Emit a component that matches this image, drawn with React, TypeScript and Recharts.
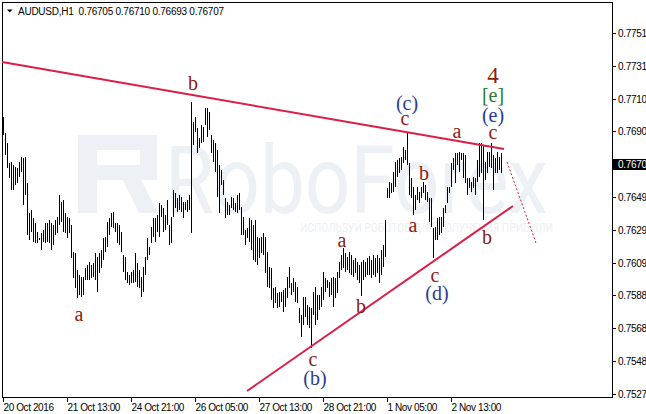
import React from 'react';
import { ComposedChart, Bar, XAxis, YAxis, ReferenceLine, ReferenceDot } from 'recharts';

// AUDUSD H1 bars (index 0 = 20 Oct 2016 05:00)
const barHigh: number[] = [
  0.76989, 0.76889, 0.76827, 0.76703, 0.76710, 0.76691, 0.76679, 0.76672, 0.76710, 0.76741,
  0.76734, 0.76741, 0.76579, 0.76393, 0.76412, 0.76362, 0.76331, 0.76276, 0.76238, 0.76269,
  0.76288, 0.76331, 0.76331, 0.76350, 0.76331, 0.76319, 0.76350, 0.76369, 0.76505, 0.76462,
  0.76474, 0.76393, 0.76369, 0.76362, 0.76319, 0.76152, 0.76145, 0.76040, 0.76009, 0.75997,
  0.75997, 0.76052, 0.76071, 0.76090, 0.76071, 0.76083, 0.76145, 0.76121, 0.76145, 0.76164,
  0.76238, 0.76245, 0.76338, 0.76362, 0.76393, 0.76400, 0.76331, 0.76331, 0.76319, 0.76276,
  0.76133, 0.76121, 0.76028, 0.76009, 0.76028, 0.76040, 0.76145, 0.76083, 0.76040, 0.75997,
  0.76059, 0.76121, 0.76238, 0.76183, 0.76307, 0.76362, 0.76362, 0.76381, 0.76455, 0.76443,
  0.76424, 0.76381, 0.76474, 0.76319,
  0.76369, 0.76536, 0.76517, 0.76486, 0.76505, 0.76493, 0.76462, 0.76462, 0.76474, 0.76505,
  0.77082, 0.76958, 0.76989, 0.76920, 0.76858, 0.76939, 0.76927, 0.77044, 0.77044, 0.77020,
  0.76877, 0.76846, 0.76827, 0.76784, 0.76691, 0.76660, 0.76598, 0.76486, 0.76462, 0.76443,
  0.76493, 0.76486, 0.76455, 0.76505, 0.76517, 0.76431, 0.76369, 0.76288, 0.76300, 0.76362,
  0.76350, 0.76319, 0.76350, 0.76245, 0.76238, 0.76245, 0.76269, 0.76245, 0.76152, 0.76059,
  0.76052, 0.75928, 0.75935, 0.75897, 0.75904, 0.75904, 0.75916, 0.75928, 0.75997, 0.76059,
  0.75959, 0.75990, 0.75966, 0.75935, 0.75804, 0.75761, 0.75873, 0.75873, 0.75823, 0.75810,
  0.75804, 0.75904, 0.75935, 0.75885, 0.75885, 0.75935, 0.76028, 0.75990, 0.75978, 0.75966,
  0.75990, 0.75997, 0.75990, 0.76028,
  0.76090, 0.76133, 0.76176, 0.76145, 0.76121, 0.76152, 0.76133, 0.76102, 0.76114, 0.76090,
  0.76071, 0.76090, 0.76102, 0.76090, 0.76114, 0.76127, 0.76102, 0.76133, 0.76114, 0.76133,
  0.76114, 0.76164, 0.76195, 0.76350, 0.76548, 0.76586, 0.76579, 0.76648, 0.76710, 0.76722,
  0.76734, 0.76741, 0.76803, 0.76784, 0.76889, 0.76703, 0.76610, 0.76555, 0.76505, 0.76555,
  0.76524, 0.76555, 0.76586, 0.76567, 0.76524, 0.76486, 0.76486, 0.76300, 0.76307, 0.76362,
  0.76369, 0.76369, 0.76424, 0.76443, 0.76555, 0.76555, 0.76703, 0.76734, 0.76765, 0.76765,
  0.76772, 0.76765, 0.76765, 0.76753, 0.76610, 0.76610, 0.76586, 0.76617, 0.76610, 0.76722,
  0.76827, 0.76827, 0.76815, 0.76710, 0.76772, 0.76772, 0.76827, 0.76753, 0.76734, 0.76772,
  0.76741, 0.76765,
];

const barLow: number[] = [
  0.76877, 0.76753, 0.76672, 0.76610, 0.76536, 0.76536, 0.76567, 0.76579, 0.76617, 0.76648,
  0.76443, 0.76505, 0.76257, 0.76226, 0.76276, 0.76214, 0.76207, 0.76207, 0.76226, 0.76164,
  0.76214, 0.76207, 0.76214, 0.76207, 0.76164, 0.76195, 0.76257, 0.76269, 0.76319, 0.76338,
  0.76276, 0.76269, 0.76238, 0.76269, 0.76114, 0.75990, 0.75928, 0.75866, 0.75885, 0.75873,
  0.75885, 0.75978, 0.75978, 0.75978, 0.75990, 0.75997, 0.75978, 0.75904, 0.76021, 0.76052,
  0.76102, 0.76152, 0.76183, 0.76257, 0.76307, 0.76300, 0.76276, 0.76207, 0.76195, 0.76152,
  0.76028, 0.75978, 0.75959, 0.75947, 0.75959, 0.75959, 0.75966, 0.75935, 0.75928, 0.75873,
  0.75904, 0.76009, 0.76102, 0.76133, 0.76207, 0.76245, 0.76214, 0.76276, 0.76245, 0.76369,
  0.76276, 0.76288, 0.76319, 0.76195,
  0.76207, 0.76369, 0.76424, 0.76400, 0.76412, 0.76400, 0.76362, 0.76412, 0.76400, 0.76412,
  0.76269, 0.76815, 0.76896, 0.76765, 0.76796, 0.76827, 0.76834, 0.76939, 0.76865, 0.76908,
  0.76765, 0.76710, 0.76648, 0.76493, 0.76393, 0.76567, 0.76505, 0.76362, 0.76381, 0.76381,
  0.76424, 0.76412, 0.76400, 0.76393, 0.76412, 0.76257, 0.76257, 0.76195, 0.76238, 0.76214,
  0.76164, 0.76102, 0.76090, 0.76071, 0.76114, 0.76145, 0.76133, 0.76021, 0.75935, 0.75928,
  0.75854, 0.75804, 0.75835, 0.75804, 0.75810, 0.75842, 0.75780, 0.75810, 0.75866, 0.75928,
  0.75885, 0.75904, 0.75842, 0.75835, 0.75711, 0.75625, 0.75699, 0.75749, 0.75699, 0.75680,
  0.75556, 0.75761, 0.75699, 0.75730, 0.75792, 0.75810, 0.75854, 0.75904, 0.75928, 0.75873,
  0.75885, 0.75810, 0.75866, 0.75897,
  0.75990, 0.76040, 0.76052, 0.76028, 0.76040, 0.76021, 0.76009, 0.75997, 0.76021, 0.75978,
  0.75959, 0.75879, 0.75978, 0.75997, 0.76009, 0.76009, 0.75990, 0.76009, 0.75997, 0.76021,
  0.75959, 0.76009, 0.76059, 0.76121, 0.76486, 0.76486, 0.76517, 0.76524, 0.76555, 0.76617,
  0.76641, 0.76660, 0.76703, 0.76722, 0.76691, 0.76505, 0.76486, 0.76381, 0.76412, 0.76474,
  0.76455, 0.76486, 0.76517, 0.76474, 0.76462, 0.76338, 0.76307, 0.76114, 0.76226, 0.76226,
  0.76257, 0.76269, 0.76307, 0.76393, 0.76455, 0.76517, 0.76555, 0.76660, 0.76579, 0.76691,
  0.76648, 0.76722, 0.76610, 0.76579, 0.76505, 0.76548, 0.76524, 0.76548, 0.76505, 0.76586,
  0.76617, 0.76641, 0.76350, 0.76598, 0.76641, 0.76679, 0.76672, 0.76536, 0.76641, 0.76641,
  0.76660, 0.76641,
];

const timeTicks = [0, 32, 64, 96, 128, 160, 192, 224];
const timeLabels = ['20 Oct 2016', '21 Oct 13:00', '24 Oct 21:00', '26 Oct 05:00', '27 Oct 13:00', '28 Oct 21:00', '1 Nov 05:00', '2 Nov 13:00'];
const priceTicks = [0.75272, 0.75476, 0.75679, 0.75882, 0.76086, 0.76289, 0.76492, 0.76696, 0.76899, 0.77102, 0.77306, 0.77509];
const currentPriceLabel = '0.7670';

const upperTrend = [{ x: -1, y: 0.77330 }, { x: 250, y: 0.76790 }];
const lowerTrend = [{ x: 121.5, y: 0.75290 }, { x: 254.5, y: 0.76437 }];
const projection = [{ x: 251.5, y: 0.76710 }, { x: 266, y: 0.76207 }];

const waveText = ['b', 'a', 'c', '(b)', 'a', 'b', '(c)', 'c', 'b', 'a', 'c', '(d)', 'a', 'c', '(e)', '[e]', '4', 'b'];
const waveIndex = [94.5, 37.5, 154.5, 155.5, 169, 178.5, 201.5, 200.5, 210, 204.5, 215.5, 216.5, 226.5, 244.5, 244.5, 244.5, 244.5, 241.5];
const wavePrice = [0.77199, 0.75767, 0.75488, 0.75370, 0.76226, 0.75817, 0.77075, 0.76982, 0.76641, 0.76319, 0.76009, 0.75897, 0.76902, 0.76896, 0.77001, 0.77125, 0.77249, 0.76245];
const waveDegree = ['minor', 'minor', 'minor', 'inter', 'minor', 'minor', 'inter', 'minor', 'minor', 'minor', 'minor', 'inter', 'minor', 'minor', 'inter', 'minute', 'primary', 'minor'];

const degreeStyle: Record<string, { color: string; size: number }> = {
  minor: { color: '#8b1a12', size: 20 },
  inter: { color: '#2b3b93', size: 20 },
  minute: { color: '#2e7a2e', size: 20 },
  primary: { color: '#8b1a12', size: 23 },
};

const data = barHigh.map((h, i) => ({ i, range: [barLow[i], h] }));

const TREND = '#dc1e46';
const AXIS_FONT = "'Liberation Sans', Arial, sans-serif";

const BarShape = (p: any) => {
  const c = p.x + p.width / 2;
  const left = Math.round(c - 0.5);
  return <rect x={left} y={p.y} width={1} height={Math.max(1, p.height)} fill="#000" shapeRendering="crispEdges" />;
};

const XTick = (p: any) => {
  const idx = timeTicks.indexOf(p.payload.value);
  const x = Math.round(p.x - 0.5) + 0.5;
  return (
    <g>
      <line x1={x - 1} x2={x - 1} y1={p.y - 5} y2={p.y} stroke="#000" strokeWidth={1} />
      <text x={x - 1} y={p.y + 9} textAnchor="start" fontFamily={AXIS_FONT} fontSize={10} letterSpacing={-0.4} fill="#000">
        {timeLabels[idx]}
      </text>
    </g>
  );
};

const YTick = (p: any) => {
  const label = Number(p.payload.value).toFixed(4);
  const y = Math.round(p.y);
  const cur = label === currentPriceLabel;
  return (
    <g>
      <line x1={p.x - 6} x2={p.x - 2} y1={y + 0.5} y2={y + 0.5} stroke="#000" strokeWidth={1} />
      {cur && <rect x={p.x - 5} y={y - 5} width={36} height={11} fill="#000" />}
      <text x={p.x} y={y + 4} textAnchor="start" fontFamily={AXIS_FONT} fontSize={10} letterSpacing={-0.3} fill={cur ? '#fff' : '#000'}>
        {label}
      </text>
    </g>
  );
};

const Background = () => (
  <svg width={646} height={414} style={{ position: 'absolute', left: 0, top: 0 }}>
    <g fill="#edf0f4">
      <path fillRule="evenodd" d="M78 135 H157 V180 H141 L158 213 H139 L123 180 H97 V213 H78 Z M97 150 V165 H140 V150 Z" />
      <text x={165} y={213} fontFamily="Roboto, 'Open Sans', sans-serif" fontSize={95} textLength={383} lengthAdjust="spacingAndGlyphs">RoboForex</text>
      <text x={300} y={232} fontFamily="Roboto, 'Open Sans', sans-serif" fontSize={13} textLength={253} lengthAdjust="spacingAndGlyphs">ИСПОЛЬЗУЙ РОБОТОВ ДЛЯ ПОЛУЧЕНИЯ ПРИБЫЛИ</text>
    </g>
    <rect x={2.5} y={2.5} width={610} height={395} fill="none" stroke="#000" strokeWidth={1} />
    <polygon points="7,9.5 12.5,9.5 9.75,12.5" fill="#000" />
    <text x={18} y={15} fontFamily={AXIS_FONT} fontSize={10} letterSpacing={-0.25} fill="#000" style={{ whiteSpace: 'pre' }}>
      {'AUDUSD,H1  0.76705 0.76710 0.76693 0.76707'}
    </text>
  </svg>
);

export default function App() {
  return (
    <div style={{ position: 'absolute', left: 0, top: 0, width: 646, height: 414, background: '#fff', overflow: 'hidden' }}>
      <Background />
      <div style={{ position: 'absolute', left: 0, top: 0 }}>
        <ComposedChart width={646} height={414} data={data} margin={{ top: 2, right: 0, bottom: 0, left: 2 }}>
          <XAxis
            type="number"
            dataKey="i"
            domain={[-1, 304]}
            ticks={timeTicks}
            interval={0}
            allowDataOverflow
            axisLine={false}
            tickLine={false}
            tickSize={5}
            tickMargin={0}
            height={17}
            tick={<XTick />}
          />
          <YAxis
            orientation="right"
            type="number"
            domain={[0.752526, 0.777016]}
            ticks={priceTicks}
            interval={0}
            allowDataOverflow
            axisLine={false}
            tickLine={false}
            tickSize={3}
            tickMargin={3}
            width={34}
            tick={<YTick />}
          />
          <Bar dataKey="range" barSize={1} isAnimationActive={false} shape={<BarShape />} />
          <ReferenceLine segment={upperTrend} stroke={TREND} strokeWidth={2} ifOverflow="visible" />
          <ReferenceLine segment={lowerTrend} stroke={TREND} strokeWidth={2} ifOverflow="visible" />
          <ReferenceLine segment={projection} stroke={TREND} strokeWidth={1} strokeDasharray="2 2" ifOverflow="visible" />
          {waveText.map((t, k) => {
            const st = degreeStyle[waveDegree[k]];
            return (
              <ReferenceDot
                key={k}
                x={waveIndex[k]}
                y={wavePrice[k]}
                r={1}
                ifOverflow="visible"
                shape={(p: any) => (
                  <text
                    x={p.cx}
                    y={p.cy}
                    textAnchor="middle"
                    dominantBaseline="central"
                    fontFamily="'Liberation Serif', 'Times New Roman', serif"
                    fontSize={st.size}
                    fill={st.color}
                  >
                    {t}
                  </text>
                )}
              />
            );
          })}
        </ComposedChart>
      </div>
    </div>
  );
}
